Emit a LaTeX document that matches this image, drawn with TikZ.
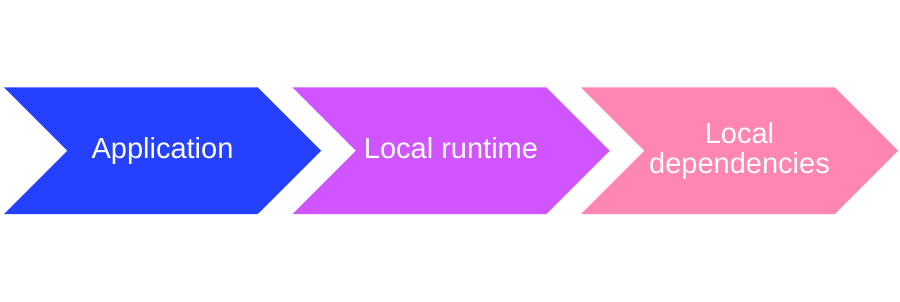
\documentclass[tikz,border=0pt]{standalone}
\usepackage{fontspec}
\setmainfont{Liberation Sans}
\usepackage{tikz}
\usetikzlibrary{positioning,shapes.symbols}
\definecolor{AppBlue}{HTML}{2541FF}
\definecolor{RuntimeViolet}{HTML}{D054FF}
\definecolor{DepsPink}{HTML}{FF85B3}

\tikzset{
  stage/.style={signal, signal from=west, signal to=east, signal pointer angle=90,
    minimum width=317pt, minimum height=126.5pt, inner sep=0pt, text=white,
    align=center, font=\fontsize{29}{30}\selectfont},
  oneline/.style={text height=21pt, text depth=4.5pt}
}

\begin{document}
\begin{tikzpicture}[x=1pt, y=-1pt]
  \useasboundingbox (0,0) rectangle (900,302);
  % Stages
  \node [stage, oneline, fill=AppBlue] (app) at (162.5,150.75) {Application};
  \node [stage, oneline, fill=RuntimeViolet] (runtime) at (451,150.75) {Local runtime};
  \node [stage, fill=DepsPink] (deps) at (739.5,150.75) {Local\\dependencies};
\end{tikzpicture}
\end{document}
